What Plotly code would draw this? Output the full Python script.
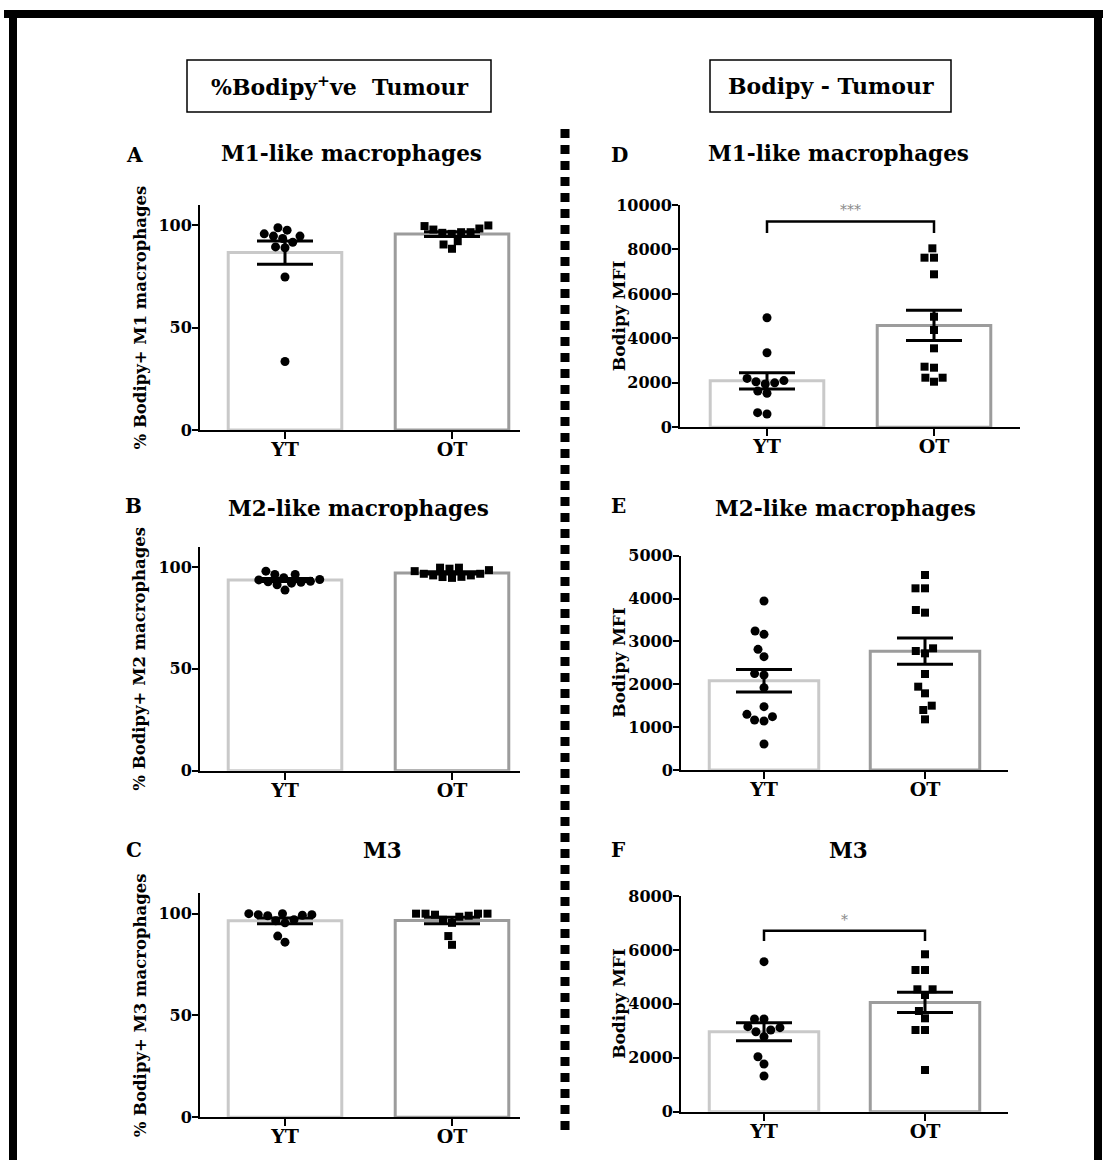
import math
import plotly.graph_objects as go

W, H = 1107, 1160
FONT = "DejaVu Serif"

# ---- data -------------------------------------------------------------
groups = ["YT", "OT"]

# % Bodipy+ cells within each macrophage subset (tumour)
a_yt = [95.9, 94.8, 91.8, 98.9, 97.7, 89.1, 89.5, 93.6, 94.8, 74.8, 33.5]
a_ot = [99.7, 98.5, 96.7, 92.3, 96.4, 88.6, 95.9, 90.7, 96.7, 98.0, 100.0]
b_yt = [94.8, 92.8, 96.4, 92.1, 93.9, 96.4, 88.7, 91.3, 98.0, 92.5, 93.7, 93.0]
b_ot = [99.7, 99.2, 98.0, 96.7, 95.9, 95.2, 94.7, 95.1, 95.9, 96.7, 98.5, 99.7]
c_yt = [100.0, 99.5, 99.2, 96.5, 95.5, 97.0, 99.0, 99.5, 100.0, 86.0, 89.0]
c_ot = [100.0, 100.0, 99.5, 98.5, 95.5, 97.0, 99.0, 100.0, 100.0, 84.7, 89.0]

# Bodipy MFI within each macrophage subset (tumour)
d_yt = [4930, 3356, 2200, 2100, 2050, 2000, 1950, 1630, 1530, 660, 600]
d_ot = [8051, 7630, 7630, 6882, 4975, 4377, 3553, 2726, 2681, 2231, 2051, 2231]
e_yt = [3943, 3243, 3166, 2816, 2644, 2250, 2217, 1921, 1478, 1299, 1244, 1167, 1143, 607]
e_ot = [4550, 4239, 4239, 3733, 3671, 2839, 2776, 2722, 2240, 1944, 1789, 1501, 1400, 1182]
f_yt = [5564, 3438, 3438, 3153, 3116, 3030, 2967, 2782, 2040, 1769, 1324]
f_ot = [5838, 5256, 5256, 4540, 4540, 4329, 3735, 3464, 3030, 3030, 1547]

pct_ticks = [0, 50, 100]
d_ticks = [0, 2000, 4000, 6000, 8000, 10000]
e_ticks = [0, 1000, 2000, 3000, 4000, 5000]
f_ticks = [0, 2000, 4000, 6000, 8000]

# ---- panel layout (pixel geometry) ------------------------------------
panels = [
    dict(letter="A", yt=a_yt, ot=a_ot, xpx=(200, 520), cats=(285, 452), ypx=(205, 430),
         ymax=110, ticks=pct_ticks, ytitle="% Bodipy+ M1 macrophages", ytx=140,
         title="M1-like macrophages", tpos=(351, 153), lpos=(134, 155), sig=None),
    dict(letter="B", yt=b_yt, ot=b_ot, xpx=(200, 520), cats=(285, 452), ypx=(546.7, 770.7),
         ymax=110, ticks=pct_ticks, ytitle="% Bodipy+ M2 macrophages", ytx=140,
         title="M2-like macrophages", tpos=(358, 508), lpos=(133, 506), sig=None),
    dict(letter="C", yt=c_yt, ot=c_ot, xpx=(200, 520), cats=(285, 452), ypx=(893.3, 1117.3),
         ymax=110, ticks=pct_ticks, ytitle="% Bodipy+ M3 macrophages", ytx=140,
         title="M3", tpos=(382, 850), lpos=(134, 850), sig=None),
    dict(letter="D", yt=d_yt, ot=d_ot, xpx=(680, 1020), cats=(767, 934), ypx=(205, 427.3),
         ymax=10000, ticks=d_ticks, ytitle="Bodipy MFI", ytx=619,
         title="M1-like macrophages", tpos=(838, 153), lpos=(619, 155), sig="***"),
    dict(letter="E", yt=e_yt, ot=e_ot, xpx=(681, 1008), cats=(764, 925), ypx=(555.7, 770),
         ymax=5000, ticks=e_ticks, ytitle="Bodipy MFI", ytx=619,
         title="M2-like macrophages", tpos=(845, 508), lpos=(618, 506), sig=None),
    dict(letter="F", yt=f_yt, ot=f_ot, xpx=(681, 1008), cats=(764, 925), ypx=(896, 1111.7),
         ymax=8000, ticks=f_ticks, ytitle="Bodipy MFI", ytx=619,
         title="M3", tpos=(848, 850), lpos=(618, 850), sig="*"),
]

BAR_EDGE = ["#c9c9c9", "#9c9c9c"]
SYMBOLS = ["circle", "square"]
SIZES = [9, 8]


def fx(px):
    return px / W


def fy(py):
    return 1 - py / H


def mean(v):
    return sum(v) / len(v)


def sem(v):
    m = mean(v)
    sd = math.sqrt(sum((x - m) ** 2 for x in v) / (len(v) - 1))
    return sd / math.sqrt(len(v))


def swarm_offsets(values, px_per_unit, px_per_cat, diam):
    """Beeswarm: place points (low to high) as close to the centre as possible
    without overlapping the points already placed."""
    order = sorted(range(len(values)), key=lambda i: values[i])
    placed = []
    offsets = [0.0] * len(values)
    for i in order:
        y = values[i] * px_per_unit
        cands = [0.0]
        for xp, yp in placed:
            dy = abs(y - yp)
            if dy < diam:
                dx = math.sqrt(diam ** 2 - dy ** 2)
                cands += [xp - dx, xp + dx]
        cands.sort(key=lambda c: (round(abs(c), 4), c))
        chosen = 0.0
        for c in cands:
            if all((c - xp) ** 2 + (y - yp) ** 2 >= diam ** 2 - 1e-6 for xp, yp in placed):
                chosen = c
                break
        placed.append((chosen, y))
        offsets[i] = chosen / px_per_cat
    return offsets


def label(text, px, py, size, color="black", angle=0):
    return dict(text=text, x=fx(px), y=fy(py), xref="paper", yref="paper",
                xanchor="center", yanchor="middle", showarrow=False, textangle=angle,
                font=dict(family=FONT, size=size, color=color))


fig = go.Figure()
layout = dict(
    width=W, height=H,
    margin=dict(l=0, r=0, t=0, b=0, pad=0, autoexpand=False),
    paper_bgcolor="white", plot_bgcolor="white",
    showlegend=False,
    barmode="overlay",
)
annotations = []
shapes = []

for k, p in enumerate(panels):
    n = "" if k == 0 else str(k + 1)
    xa, ya = "x" + n, "y" + n
    step = p["cats"][1] - p["cats"][0]
    x0 = (p["xpx"][0] - p["cats"][0]) / step
    x1 = 1 + (p["xpx"][1] - p["cats"][1]) / step
    px_per_unit = (p["ypx"][1] - p["ypx"][0]) / p["ymax"]

    series = [p["yt"], p["ot"]]
    for g, vals in enumerate(series):
        fig.add_trace(go.Bar(
            x=[g], y=[mean(vals)], width=0.68, xaxis=xa, yaxis=ya,
            marker=dict(color="white", line=dict(color=BAR_EDGE[g], width=3)),
            error_y=dict(type="data", array=[sem(vals)], symmetric=True,
                         color="black", thickness=3, width=28),
            hoverinfo="skip",
        ))
    for g, vals in enumerate(series):
        offs = swarm_offsets(vals, px_per_unit, step, 9.5)
        fig.add_trace(go.Scatter(
            x=[g + o for o in offs], y=vals, mode="markers", xaxis=xa, yaxis=ya,
            marker=dict(symbol=SYMBOLS[g], size=SIZES[g], color="black",
                        line=dict(width=0)),
            hoverinfo="skip", cliponaxis=False,
        ))

    layout["xaxis" + n] = dict(
        domain=[fx(p["xpx"][0]), fx(p["xpx"][1])], anchor=ya, range=[x0, x1],
        tickvals=[0, 1], ticktext=groups, showline=True, linecolor="black",
        linewidth=2, ticks="outside", ticklen=7, tickwidth=2, tickcolor="black",
        ticklabelstandoff=-6,
        showgrid=False, zeroline=False, fixedrange=True, automargin=False,
        tickfont=dict(family=FONT, size=19, color="black", weight="bold"),
    )
    layout["yaxis" + n] = dict(
        domain=[fy(p["ypx"][1]), fy(p["ypx"][0])], anchor=xa, range=[0, p["ymax"]],
        tickvals=p["ticks"], tickformat="d", showline=True, linecolor="black",
        linewidth=2, ticks="outside", ticklen=6, tickwidth=2, tickcolor="black",
        ticklabelstandoff=-3,
        showgrid=False, zeroline=False, fixedrange=True, automargin=False,
        tickfont=dict(family=FONT, size=16, color="black", weight="bold"),
    )

    # panel letter, title and y-axis title
    ytsize = 16.5 if p["ymax"] == 110 else 17
    annotations.append(label("<b>%s</b>" % p["letter"], p["lpos"][0], p["lpos"][1], 20))
    annotations.append(label("<b>%s</b>" % p["title"], p["tpos"][0], p["tpos"][1], 21.5))
    annotations.append(label("<b>%s</b>" % p["ytitle"], p["ytx"],
                             (p["ypx"][0] + p["ypx"][1]) / 2, ytsize, angle=-90))

    # significance bracket between the two groups
    if p["sig"]:
        top = max(p["ot"] + p["yt"]) * 1.15
        leg = max(p["ot"] + p["yt"]) * 1.085
        shapes.append(dict(type="path", xref=xa, yref=ya,
                           path="M 0 %f L 0 %f L 1 %f L 1 %f" % (leg, top, top, leg),
                           line=dict(color="black", width=2.5)))
        annotations.append(dict(text=p["sig"], x=0.5, y=top, xref=xa, yref=ya,
                                xanchor="center", yanchor="middle",
                                showarrow=False, yshift=11,
                                font=dict(family=FONT, size=14, color="#8a8a8a")))

# section headers
for (bx0, bx1), txt in [((187, 491), "<b>%Bodipy<sup>+</sup>ve  Tumour</b>"),
                        ((710, 951), "<b>Bodipy - Tumour</b>")]:
    shapes.append(dict(type="rect", xref="paper", yref="paper",
                       x0=fx(bx0), x1=fx(bx1), y0=fy(112), y1=fy(60),
                       line=dict(color="black", width=1.5), fillcolor="white", layer="below"))
    annotations.append(label(txt, (bx0 + bx1) / 2, 86, 22))

# dotted divider between the two columns
shapes.append(dict(type="line", xref="paper", yref="paper",
                   x0=fx(565), x1=fx(565), y0=fy(129), y1=fy(1137),
                   line=dict(color="black", width=9, dash="9px,7px")))

# outer frame
for (rx0, rx1, ry0, ry1) in [(4, 1103, 10, 18), (9, 17, 10, 1160), (1094, 1102, 10, 1160)]:
    shapes.append(dict(type="rect", xref="paper", yref="paper",
                       x0=fx(rx0), x1=fx(rx1), y0=fy(ry1), y1=fy(ry0),
                       line=dict(width=0), fillcolor="black"))

layout["annotations"] = annotations
layout["shapes"] = shapes
fig.update_layout(**layout)

fig.write_html("out.html", config={"displayModeBar": False})
